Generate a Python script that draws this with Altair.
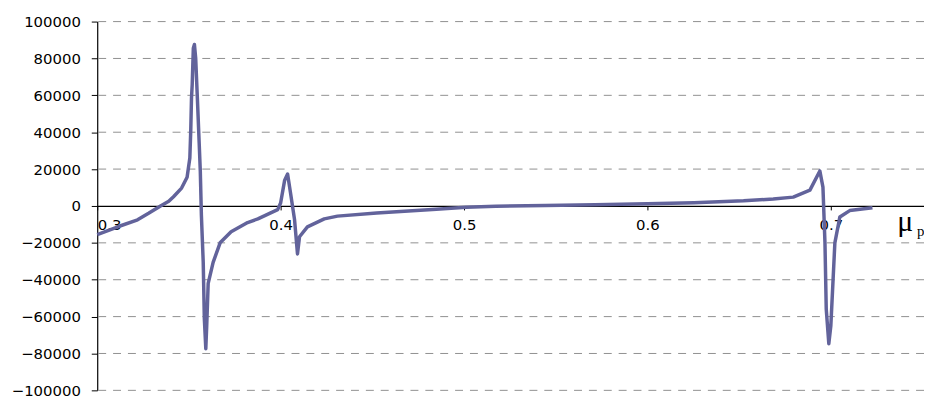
import altair as alt
import pandas as pd

mu = [0.300, 0.312, 0.322, 0.328, 0.3345, 0.339, 0.3416, 0.346, 0.349, 0.3505,
      0.3510, 0.3514, 0.3518, 0.3524, 0.3530, 0.3537, 0.3546, 0.3556, 0.3562, 0.3568,
      0.3578, 0.3584, 0.3592, 0.3597, 0.3605, 0.3632, 0.3670, 0.3730, 0.3820, 0.3876,
      0.3940, 0.3984, 0.4000, 0.4022, 0.4038, 0.4054, 0.4076, 0.4092, 0.4103, 0.4146,
      0.4238, 0.4310, 0.4524, 0.4849, 0.5011, 0.5173, 0.5443, 0.5714, 0.6000, 0.6254,
      0.6524, 0.6686, 0.6795, 0.6886, 0.6940, 0.6957, 0.6968, 0.6975, 0.6989, 0.7000,
      0.7022, 0.7049, 0.7103, 0.7227]
val = [-15500, -11000, -7500, -4000, 0, 2500, 5000, 9700, 15600, 26000,
       41000, 58600, 66000, 85500, 87600, 80000, 58600, 34000, 19000, -5000,
       -30600, -61000, -77400, -65000, -42000, -30600, -20000, -14000, -9000, -7000,
       -4000, -2000, 1600, 14000, 17300, 7000, -7500, -26000, -16700, -11300,
       -7000, -5500, -3800, -1800, -700, -100, 300, 700, 1200, 1800,
       2800, 3800, 4800, 8600, 19000, 10200, -20000, -56000, -74700, -65000,
       -20000, -6000, -2500, -1000]

df = pd.DataFrame({"mu": mu, "v": val, "i": list(range(len(mu)))})

x_ticks = [0.3, 0.4, 0.5, 0.6, 0.7]
y_ticks = list(range(-100000, 100001, 20000))
grid_vals = [v for v in y_ticks if v != 0]

font = "DejaVu Sans"

xs = alt.Scale(domain=[0.3, 0.7508], nice=False, zero=False)
ys = alt.Scale(domain=[-100000, 100000], nice=False)

y_axis = alt.Axis(values=y_ticks, format="d", title=None, grid=False,
                  domainColor="black", tickColor="black", tickSize=6,
                  labelPadding=11, labelFont=font, labelFontSize=15,
                  labelColor="black", domainWidth=1.2)

grid = alt.Chart(pd.DataFrame({"g": grid_vals})).mark_rule(
    color="#909090", strokeDash=[8, 7], strokeWidth=1
).encode(y=alt.Y("g:Q", scale=ys, axis=y_axis))

line = alt.Chart(df).mark_line(color="#62639B", strokeWidth=3.5, strokeJoin="round").encode(
    x=alt.X("mu:Q", scale=xs,
            axis=alt.Axis(values=x_ticks, format=".1f", title=None, grid=False,
                          offset=-186, domainColor="black", tickColor="black",
                          tickSize=4, labelPadding=8, labelFont=font, labelFontSize=15,
                          labelColor="black", domainWidth=1.2)),
    y=alt.Y("v:Q", scale=ys, axis=y_axis),
    order="i:Q",
)

mu_txt = alt.Chart(pd.DataFrame({"t": ["μ"]})).mark_text(
    font="Liberation Serif", fontSize=30, align="left", baseline="alphabetic", color="black"
).encode(text="t:N", x=alt.value(807), y=alt.value(211))

p_txt = alt.Chart(pd.DataFrame({"t": ["p"]})).mark_text(
    font="Liberation Serif", fontSize=15, align="left", baseline="alphabetic", color="black"
).encode(text="t:N", x=alt.value(827), y=alt.value(216))

chart = alt.layer(grid, line, mu_txt, p_txt).properties(
    width=834, height=372,
    autosize=alt.AutoSizeParams(type="none"),
    padding={"left": 90, "top": 12, "right": 0, "bottom": 5},
).configure_view(stroke=None)

chart.save("out.html", embed_options={"renderer": "svg", "actions": False})
